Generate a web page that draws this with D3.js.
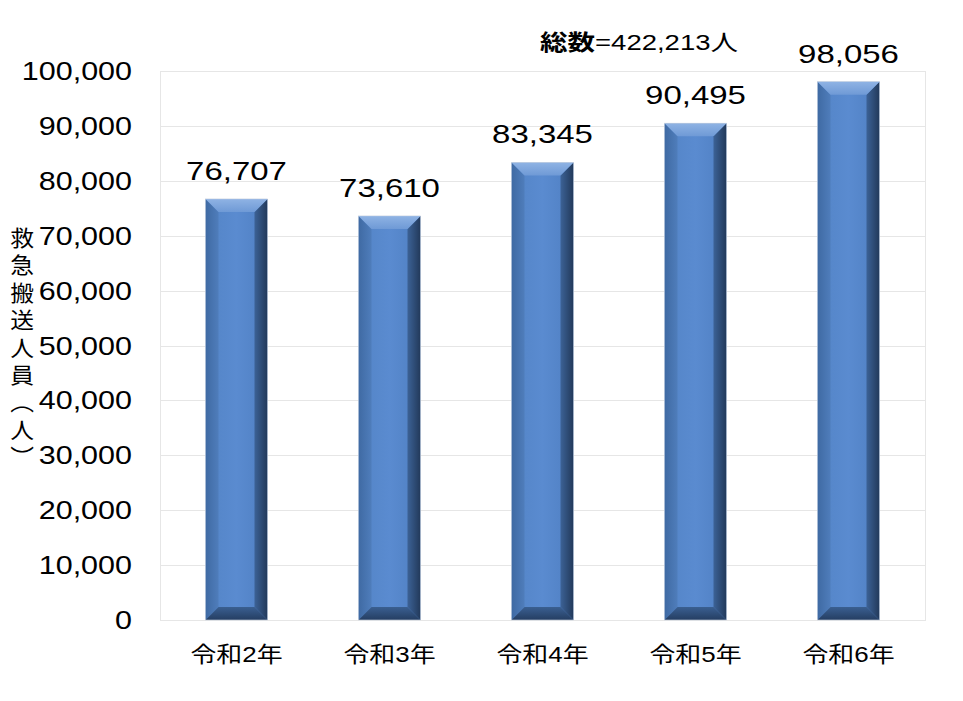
<!DOCTYPE html>
<html>
<head>
<meta charset="utf-8">
<script src="https://cdn.jsdelivr.net/npm/d3@7"></script>
<style>
  body { margin: 0; background: #fff; }
  text { font-family: "Liberation Sans", Arial, "Noto Sans CJK JP", sans-serif; fill: #000; }
</style>
</head>
<body>
<div id="chart"></div>
<script>
const years = ["令和2年", "令和3年", "令和4年", "令和5年", "令和6年"];
const counts = [76707, 73610, 83345, 90495, 98056];
const yTicks = [0, 10000, 20000, 30000, 40000, 50000, 60000, 70000, 80000, 90000, 100000];
const axisTitle = ["救", "急", "搬", "送", "人", "員", "︵", "人", "︶"];
const totalLabel = "総数=" + d3.format(",")(d3.sum(counts)) + "人";

const width = 963, height = 701;
const plot = { left: 160, right: 925, top: 71, bottom: 620 };

const svg = d3.select("#chart").append("svg")
    .attr("width", width)
    .attr("height", height);

// gradients for the bevelled bars
const defs = svg.append("defs");
function grad(id, x2, y2, stops) {
    const g = defs.append("linearGradient").attr("id", id)
        .attr("x1", 0).attr("y1", 0).attr("x2", x2).attr("y2", y2);
    stops.forEach(s => g.append("stop").attr("offset", s[0]).attr("stop-color", s[1]));
}
grad("face", 1, 0, [[0, "#5384c6"], [0.5, "#5a8bd0"], [1, "#4f7fc2"]]);
grad("left", 1, 0, [[0, "#3f6aa3"], [1, "#4f7dbb"]]);
grad("right", 1, 0, [[0, "#3c6296"], [1, "#22395a"]]);
grad("top", 0, 1, [[0, "#8fb3e4"], [1, "#6f9ad6"]]);
grad("bottom", 0, 1, [[0, "#3a5f91"], [1, "#253e62"]]);

const x = d3.scaleBand()
    .domain(years)
    .range([plot.left, plot.right])
    .paddingInner(0.595)
    .paddingOuter(0.2975);

const y = d3.scaleLinear()
    .domain([0, 100000])
    .range([plot.bottom, plot.top]);

const fmt = d3.format(",");

// stretched text helper (the original is horizontally stretched)
function stretchText(parent, tx, ty, sx, str, size, anchor) {
    return parent.append("text")
        .attr("transform", `translate(${tx},${ty}) scale(${sx},1)`)
        .attr("text-anchor", anchor || "middle")
        .attr("font-size", size)
        .text(str);
}

// gridlines + plot border
svg.append("g")
    .selectAll("line")
    .data(yTicks)
    .join("line")
    .attr("x1", plot.left)
    .attr("x2", plot.right)
    .attr("y1", d => Math.round(y(d)) + 0.5)
    .attr("y2", d => Math.round(y(d)) + 0.5)
    .attr("stroke", "#e6e6e6");

svg.append("rect")
    .attr("x", plot.left + 0.5)
    .attr("y", plot.top + 0.5)
    .attr("width", plot.right - plot.left)
    .attr("height", plot.bottom - plot.top)
    .attr("fill", "none")
    .attr("stroke", "#e6e6e6");

// y tick labels
const tickG = svg.append("g");
yTicks.forEach(t => {
    stretchText(tickG, 132, y(t) + 9, 1.22, fmt(t), 25, "end");
});

// bars with bevel
const b = 13;
const barG = svg.append("g");
years.forEach((yr, i) => {
    const x0 = x(yr), x1 = x0 + x.bandwidth();
    const y0 = y(counts[i]), y1 = y(0);
    const g = barG.append("g");
    const poly = (pts, fill) => g.append("polygon")
        .attr("points", pts.map(p => p.join(",")).join(" "))
        .attr("fill", fill);
    poly([[x0, y0], [x1, y0], [x1, y1], [x0, y1]], "url(#face)");
    poly([[x0, y0], [x0 + b, y0 + b], [x0 + b, y1 - b], [x0, y1]], "url(#left)");
    poly([[x1, y0], [x1 - b, y0 + b], [x1 - b, y1 - b], [x1, y1]], "url(#right)");
    poly([[x0, y0], [x1, y0], [x1 - b, y0 + b], [x0 + b, y0 + b]], "url(#top)");
    poly([[x0, y1], [x1, y1], [x1 - b, y1 - b], [x0 + b, y1 - b]], "url(#bottom)");
    g.append("rect")
        .attr("x", x0).attr("y", y0)
        .attr("width", x1 - x0).attr("height", y1 - y0)
        .attr("fill", "none")
        .attr("stroke", "#c9d3e0")
        .attr("stroke-width", 0.6);

    // value label
    stretchText(svg, x0 + x.bandwidth() / 2, y0 - 19, 1.32, fmt(counts[i]), 25);
    // category label
    stretchText(svg, x0 + x.bandwidth() / 2, 662, 1.18, yr, 22);
});

// total label
const tot = svg.append("text")
    .attr("transform", "translate(639,50) scale(1.25,1)")
    .attr("text-anchor", "middle")
    .attr("font-size", 22);
tot.append("tspan").attr("font-weight", "bold").text(totalLabel.slice(0, 2));
tot.append("tspan").text(totalLabel.slice(2));

// y axis title, vertical
const titleG = svg.append("g");
axisTitle.forEach((ch, i) => {
    stretchText(titleG, 22, 246 + i * 27.4, 1.08, ch, 22)
        .attr("font-family", "'Noto Sans CJK JP', sans-serif");
});
</script>
</body>
</html>
